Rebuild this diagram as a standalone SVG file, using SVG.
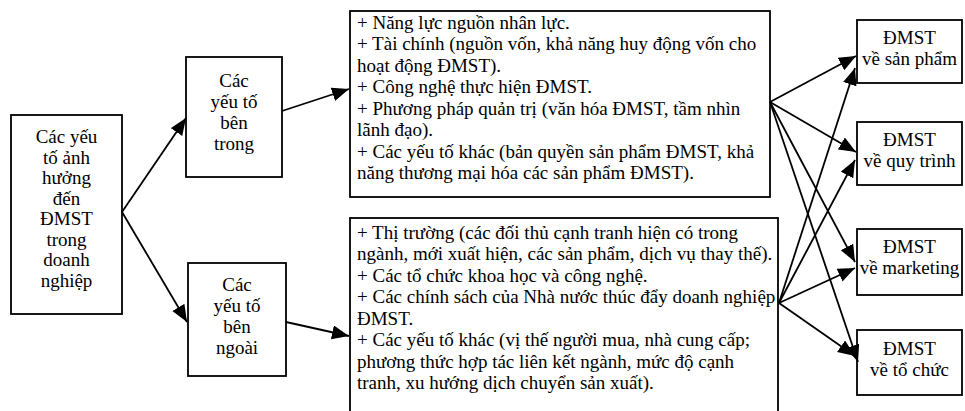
<svg xmlns="http://www.w3.org/2000/svg" width="965" height="411" viewBox="0 0 965 411">
<style>
.box{fill:#fff;stroke:#000;stroke-width:1.8}
text{font-family:"Liberation Serif","Times New Roman","DejaVu Serif",serif;font-size:19px;fill:#000}
.c{text-anchor:middle}
.conn line{stroke:#000;stroke-width:1.8;marker-end:url(#ah)}
</style>
<defs>
<marker id="ah" markerUnits="userSpaceOnUse" markerWidth="19" markerHeight="15" refX="17" refY="7" orient="auto">
<path d="M0,0 L17,7 L0,14 z" fill="#000"/>
</marker>
</defs>
<rect width="965" height="411" fill="#fff"/>
<g id="n-root">
<rect class="box" x="11" y="115" width="111" height="199"/>
<text class="c" x="66.5" y="143">Các yếu</text>
<text class="c" x="66.5" y="163.5">tố ảnh</text>
<text class="c" x="66.5" y="184">hưởng</text>
<text class="c" x="66.5" y="204.5">đến</text>
<text class="c" x="66.5" y="225">ĐMST</text>
<text class="c" x="66.5" y="245.5">trong</text>
<text class="c" x="66.5" y="266">doanh</text>
<text class="c" x="66.5" y="286.5">nghiệp</text>
</g>
<g id="n-inner">
<rect class="box" x="186" y="57" width="96" height="120"/>
<text class="c" x="234" y="87">Các</text>
<text class="c" x="234" y="108">yếu tố</text>
<text class="c" x="234" y="129">bên</text>
<text class="c" x="234" y="150">trong</text>
</g>
<g id="n-outer">
<rect class="box" x="188" y="263" width="98" height="113"/>
<text class="c" x="237" y="291">Các</text>
<text class="c" x="237" y="312">yếu tố</text>
<text class="c" x="237" y="333">bên</text>
<text class="c" x="237" y="354">ngoài</text>
</g>
<g id="n-inner-list">
<rect class="box" x="350" y="11" width="420" height="186"/>
<text x="357" y="28.5">+ Năng lực nguồn nhân lực.</text>
<text x="357" y="50">+ Tài chính (nguồn vốn, khả năng huy động vốn cho</text>
<text x="357" y="71.5">hoạt động ĐMST).</text>
<text x="357" y="93">+ Công nghệ thực hiện ĐMST.</text>
<text x="357" y="114.5">+ Phương pháp quản trị (văn hóa ĐMST, tầm nhìn</text>
<text x="357" y="136">lãnh đạo).</text>
<text x="357" y="157.5">+ Các yếu tố khác (bản quyền sản phẩm ĐMST, khả</text>
<text x="357" y="179">năng thương mại hóa các sản phẩm ĐMST).</text>
</g>
<g id="n-outer-list">
<rect class="box" x="350" y="218" width="428" height="210"/>
<text x="357" y="238.5">+ Thị trường (các đối thủ cạnh tranh hiện có trong</text>
<text x="357" y="260">ngành, mới xuất hiện, các sản phẩm, dịch vụ thay thế).</text>
<text x="357" y="281.5">+ Các tổ chức khoa học và công nghệ.</text>
<text x="357" y="303">+ Các chính sách của Nhà nước thúc đẩy doanh nghiệp</text>
<text x="357" y="324.5">ĐMST.</text>
<text x="357" y="346">+ Các yếu tố khác (vị thế người mua, nhà cung cấp;</text>
<text x="357" y="367.5">phương thức hợp tác liên kết ngành, mức độ cạnh</text>
<text x="357" y="389">tranh, xu hướng dịch chuyển sản xuất).</text>
</g>
<g id="n-product">
<rect class="box" x="857" y="20" width="105" height="63"/>
<text class="c" x="909.5" y="44">ĐMST</text>
<text class="c" x="909.5" y="65">về sản phẩm</text>
</g>
<g id="n-process">
<rect class="box" x="857" y="122" width="105" height="63"/>
<text class="c" x="909.5" y="146">ĐMST</text>
<text class="c" x="909.5" y="167">về quy trình</text>
</g>
<g id="n-marketing">
<rect class="box" x="857" y="229" width="105" height="66"/>
<text class="c" x="909.5" y="253">ĐMST</text>
<text class="c" x="909.5" y="274">về marketing</text>
</g>
<g id="n-org">
<rect class="box" x="857" y="330" width="105" height="65"/>
<text class="c" x="909.5" y="355">ĐMST</text>
<text class="c" x="909.5" y="376">về tổ chức</text>
</g>
<g id="connectors" class="conn">
<line x1="122" y1="212" x2="186" y2="118"/>
<line x1="122" y1="212" x2="187" y2="322"/>
<line x1="282" y1="111" x2="349" y2="89"/>
<line x1="286" y1="322" x2="349" y2="336"/>
<line x1="770" y1="102" x2="856" y2="56"/>
<line x1="770" y1="102" x2="856" y2="152"/>
<line x1="770" y1="102" x2="855" y2="262"/>
<line x1="770" y1="102" x2="858" y2="362"/>
<line x1="779" y1="303" x2="855" y2="68"/>
<line x1="779" y1="303" x2="855" y2="160"/>
<line x1="779" y1="303" x2="855" y2="268"/>
<line x1="779" y1="303" x2="855" y2="356"/>
</g>
</svg>
